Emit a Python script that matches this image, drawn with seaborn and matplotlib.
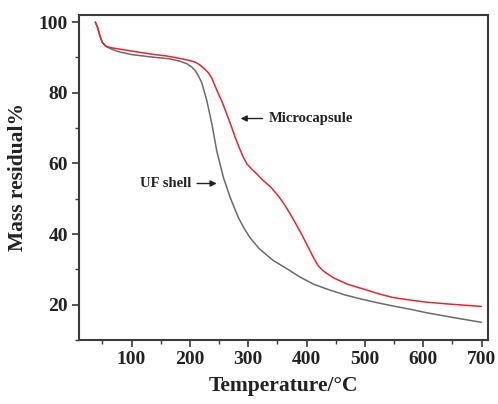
import matplotlib
matplotlib.use("Agg")
import matplotlib.pyplot as plt
import seaborn as sns
import pandas as pd
from matplotlib.ticker import MultipleLocator

# Data
micro_T = [38, 42, 46, 50, 56, 63, 100, 135, 160, 183, 200, 210, 217.6, 226, 232, 238, 243,
           249, 255, 263, 270, 277.6, 285, 291.8, 298, 306, 316, 326, 338, 349, 360, 372, 384,
           394.5, 403, 412, 420, 429, 446, 470, 500, 525, 549, 578, 606, 650, 700]
micro_M = [100, 98.3, 96, 94.2, 93.2, 92.8, 91.8, 90.9, 90.4, 89.7, 89.1, 88.6, 87.8, 86.6,
           85.6, 84.0, 82.0, 79.7, 77.5, 74.1, 71, 67.4, 64.3, 61.7, 59.8, 58.4, 56.8, 55.1,
           53.4, 51.3, 48.9, 45.7, 42.2, 39, 36.2, 33.3, 31, 29.5, 27.6, 25.8, 24.3, 23, 22,
           21.3, 20.7, 20.1, 19.5]
shell_T = [38, 42, 46, 50, 55, 65, 78, 100, 135, 165, 183, 195, 203, 209, 214, 220.5, 229,
           237.7, 246, 257.5, 269, 283, 293, 303, 318, 332, 343, 366, 389, 412, 437, 465, 491,
           520, 549, 578, 606, 650, 700]
shell_M = [100, 98.5, 96, 94.3, 93.2, 92.4, 91.6, 90.8, 90.1, 89.6, 88.9, 88.2, 87.3, 86.3,
           85.0, 82.8, 77.8, 71.2, 63.6, 56, 50.4, 44.7, 41.6, 39, 36, 34, 32.5, 30.2, 27.8,
           25.8, 24.3, 22.8, 21.7, 20.6, 19.6, 18.7, 17.7, 16.4, 15.0]

sns.set_theme(style="ticks")
plt.rcParams['font.family'] = ['Liberation Serif', 'DejaVu Serif']

fig = plt.figure(figsize=(4.98, 4.04), dpi=100)
ax = fig.add_axes([79/498, 1 - 340/404, (488-79)/498, (340-15)/404])

df_m = pd.DataFrame({"T": micro_T, "M": micro_M})
df_s = pd.DataFrame({"T": shell_T, "M": shell_M})
sns.lineplot(data=df_s, x="T", y="M", ax=ax, color="#6a6a6a", lw=1.1, sort=False)
sns.lineplot(data=df_m, x="T", y="M", ax=ax, color="#e8262b", lw=1.1, sort=False)

ax.set_xlim(10, 711)
ax.set_ylim(10, 102)
ax.xaxis.set_major_locator(MultipleLocator(100))
ax.xaxis.set_minor_locator(MultipleLocator(50))
ax.yaxis.set_major_locator(MultipleLocator(20))
ax.yaxis.set_minor_locator(MultipleLocator(10))
ax.set_xticks([100, 200, 300, 400, 500, 600, 700])
ax.set_yticks([20, 40, 60, 80, 100])

for s in ax.spines.values():
    s.set_color("#3a3a3a")
    s.set_linewidth(1.5)
ax.tick_params(which="major", direction="out", length=5, width=1.2, color="#3a3a3a",
               labelsize=14, pad=3)
ax.tick_params(which="minor", direction="out", length=3, width=1.0, color="#3a3a3a")
ax.tick_params(top=False, right=False, which="both")
for lab in ax.get_xticklabels() + ax.get_yticklabels():
    lab.set_fontweight("bold")
    lab.set_color("#222222")

ax.set_xlabel("Temperature/°C", fontsize=15.5, fontweight="bold", color="#222222", labelpad=6)
ax.set_ylabel("Mass residual%", fontsize=15.5, fontweight="bold", color="#222222", labelpad=8)

ax.annotate("Microcapsule", xy=(287, 72.7), xytext=(335, 72.7), va="center", ha="left",
            fontsize=10.5, fontweight="bold", color="#222222",
            arrowprops=dict(arrowstyle="-|>", color="#222222", lw=1.0, mutation_scale=9,
                            shrinkA=2, shrinkB=0))
ax.annotate("UF shell", xy=(246, 54.3), xytext=(202, 54.3), va="center", ha="right",
            fontsize=10.5, fontweight="bold", color="#222222",
            arrowprops=dict(arrowstyle="-|>", color="#222222", lw=1.0, mutation_scale=9,
                            shrinkA=2, shrinkB=0))

fig.savefig("out.png", dpi=100)
